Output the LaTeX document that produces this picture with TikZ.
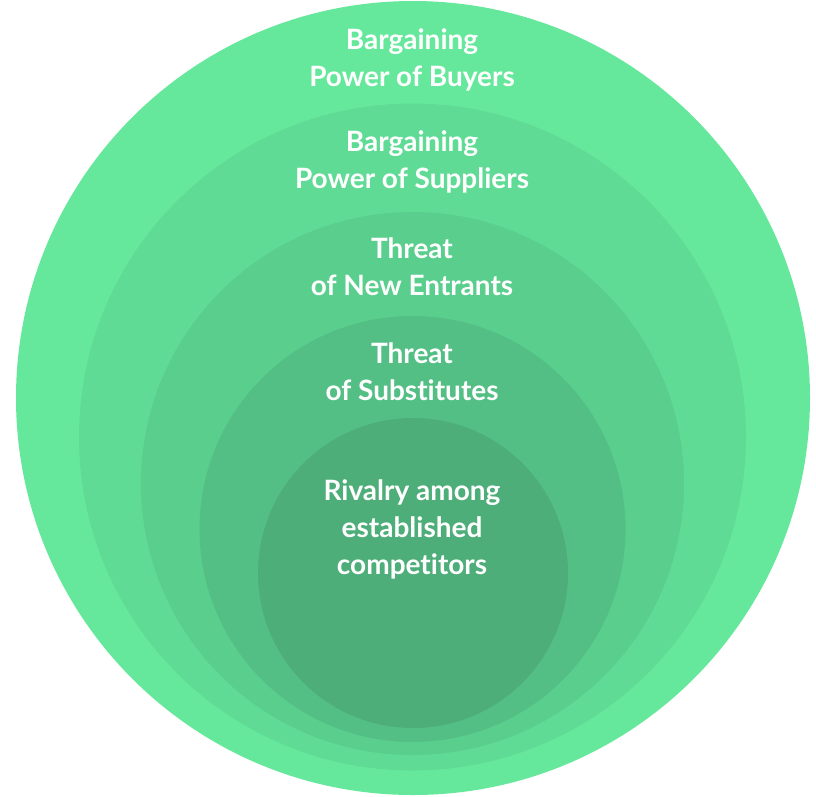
\documentclass[tikz,border=0pt]{standalone}
\usepackage{fontspec}
\setmainfont{Lato}[Ligatures={NoCommon}]
\definecolor{ringA}{RGB}{102,232,156}
\definecolor{ringB}{RGB}{96,219,149}
\definecolor{ringC}{RGB}{90,206,141}
\definecolor{ringD}{RGB}{84,191,133}
\definecolor{ringE}{RGB}{78,174,121}
\tikzset{
	force/.style={text=white, align=center, font=\fontsize{28}{37}\selectfont\bfseries}
}
\begin{document}
\begin{tikzpicture}[x=1pt,y=-1pt]
	\useasboundingbox (0,0) rectangle (816,796);

	% rings
	\fill[ringA] (413,398) circle (397);
	\fill[ringB] (412.5,437) circle (333.5);
	\fill[ringC] (412.5,483.5) circle (271.5);
	\fill[ringD] (412.5,529) circle (213);
	\fill[ringE] (413,573) circle (155);

	% labels
	\node[force] (buyers) at (412,60) {Bargaining\\Power of Buyers};
	\node[force] (suppliers) at (412,162) {Bargaining\\Power of Suppliers};
	\node[force] (entrants) at (412,267) {Threat\\of New Entrants};
	\node[force] (substitutes) at (412,372) {Threat\\of Substitutes};
	\node[force] (rivalry) at (412,529) {Rivalry among\\established\\competitors};

\end{tikzpicture}
\end{document}
